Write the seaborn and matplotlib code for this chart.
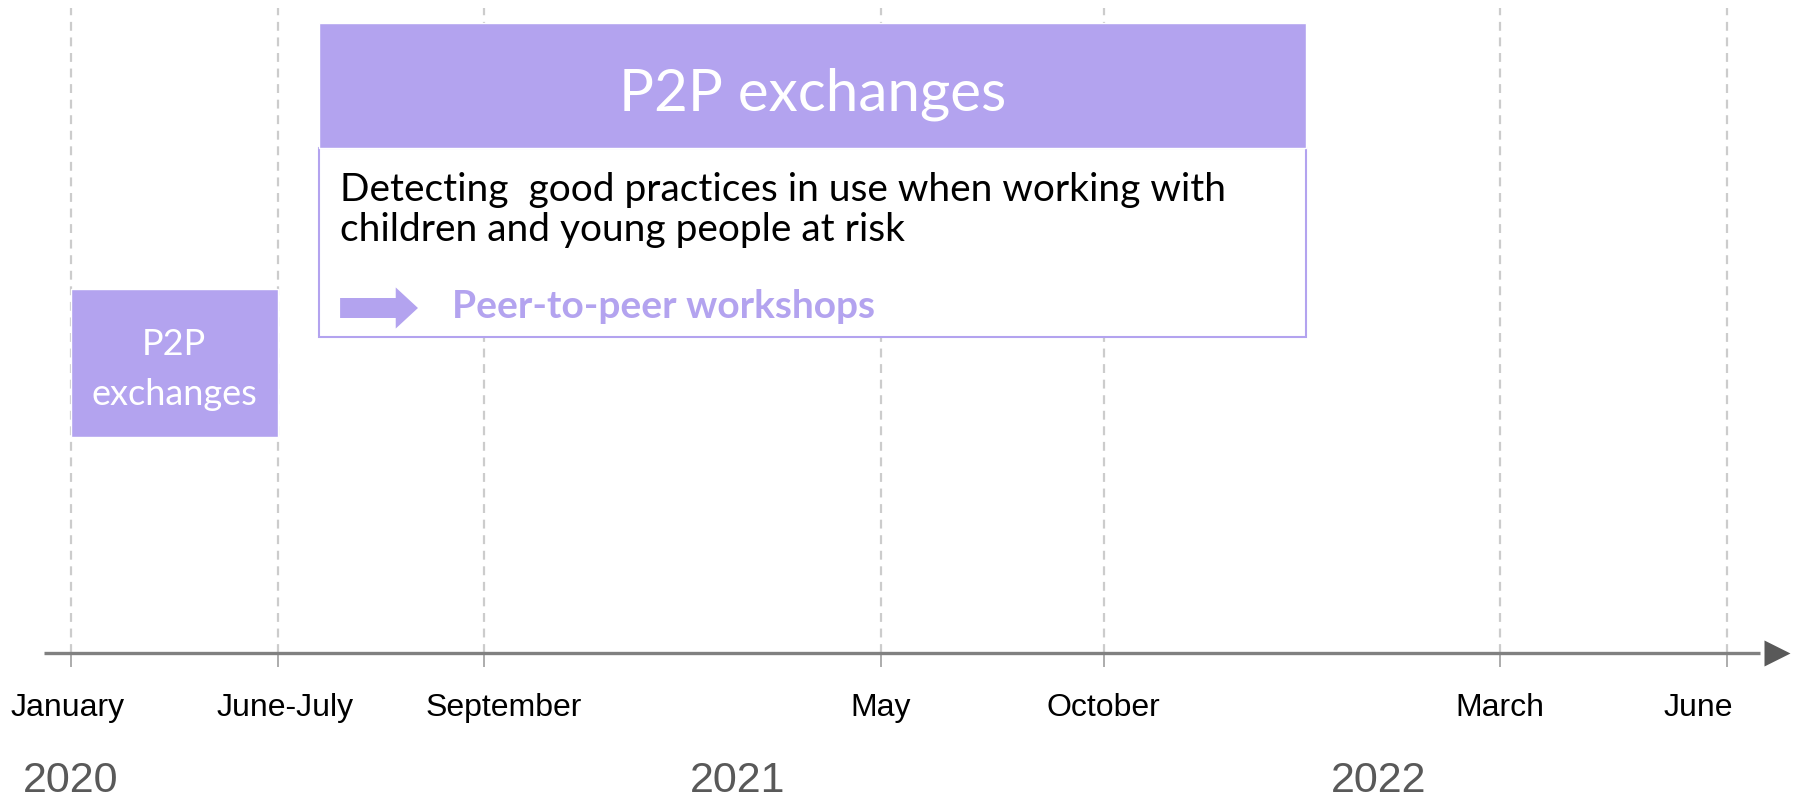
"""Project timeline: P2P exchanges phases along a 2020-2022 axis."""

import matplotlib

matplotlib.use("Agg")
import matplotlib.pyplot as plt
import seaborn as sns

# timeline data (x in timeline units, one unit = the Jan -> June-July gap)
MONTHS = ["January", "June-July", "September", "May", "October", "March", "June"]
MONTH_POS = [0, 1, 2, 3.92, 5.0, 6.92, 8.02]
MONTH_LABEL_POS = [-0.016, 1.039, 2.097, 3.92, 5.0, 6.92, 7.88]
YEARS = ["2020", "2021", "2022"]
YEAR_POS = [0, 3.23, 6.33]

PHASE_LABELS = ["P2P\nexchanges", "P2P exchanges"]
PHASE_START = [0, 1.2]
PHASE_END = [1, 5.98]
DETAIL_TEXT = "Detecting  good practices in use when working with\nchildren and young people at risk"
DETAIL_ACTION = "Peer-to-peer workshops"

LAVENDER = "#B3A3EF"
GRID_GREY = "#CCCCCC"
AXIS_GREY = "#808080"

FIG_W, FIG_H = 1798, 803
AXIS_Y = 653.6  # pixel row of the timeline arrow


def main() -> None:
    sns.set_theme(style="white")
    plt.rcParams["font.family"] = ["Liberation Sans", "DejaVu Sans"]
    box_font = ["Lato", "DejaVu Sans"]

    fig = plt.figure(figsize=(FIG_W / 100, FIG_H / 100), dpi=100)
    fig.patch.set_facecolor("white")
    bottom = (FIG_H - AXIS_Y) / FIG_H
    ax = fig.add_axes([0, bottom, 1, 1 - bottom])
    ax.set_xlim(-0.344, 8.363)
    ax.set_ylim(0, AXIS_Y)
    for side in ["top", "right", "left", "bottom"]:
        ax.spines[side].set_visible(False)
    ax.set_facecolor("none")

    # dashed month guides
    ax.vlines(MONTH_POS, 0, AXIS_Y - 9, colors=GRID_GREY, lw=1.6,
              linestyles=(0, (4, 3)), zorder=1)

    # timeline arrow
    ax.hlines(0, -0.133, 8.18, colors=AXIS_GREY, lw=2.4, clip_on=False, zorder=4)
    ax.plot([8.26], [0], marker=">", ms=19, color="#595959", mec="none",
            clip_on=False, zorder=5)

    ax.set_xticks(MONTH_POS)
    ax.set_xticklabels([])
    ax.set_yticks([])
    ax.tick_params(axis="x", bottom=True, direction="out", length=10, width=1.3,
                   colors="#A6A6A6")

    for label, x in zip(MONTHS, MONTH_LABEL_POS):
        ax.text(x, -54, label, ha="center", va="center", fontsize=23,
                color="black", clip_on=False)
    for label, x in zip(YEARS, YEAR_POS):
        ax.text(x, -127, label, ha="center", va="center", fontsize=31,
                color="#595959", clip_on=False)

    # phase 1: small box
    ax.barh(289.6, PHASE_END[0] - PHASE_START[0], left=PHASE_START[0], height=148,
            color=LAVENDER, zorder=3)
    ax.text((PHASE_START[0] + PHASE_END[0]) / 2, 284.0, PHASE_LABELS[0],
            ha="center", va="center", fontsize=26, color="white",
            family=box_font, linespacing=1.65, zorder=6)

    # phase 2: detail panel + header
    ax.barh(410.1, PHASE_END[1] - PHASE_START[1], left=PHASE_START[1], height=189,
            facecolor="white", edgecolor=LAVENDER, lw=1.5, zorder=3)
    ax.barh(567.1, PHASE_END[1] - PHASE_START[1], left=PHASE_START[1], height=125,
            color=LAVENDER, zorder=4)
    ax.text((PHASE_START[1] + PHASE_END[1]) / 2, 559.6, PHASE_LABELS[1],
            ha="center", va="center", fontsize=42, color="white",
            family=box_font, zorder=6)
    ax.text(1.303, 443.6, DETAIL_TEXT, ha="left", va="center", fontsize=28,
            color="black", family=box_font, linespacing=1.17, zorder=6)
    ax.annotate("", xy=(1.68, 344.6), xytext=(1.303, 344.6),
                arrowprops=dict(arrowstyle="simple,head_length=1.0,head_width=1.85,tail_width=0.9",
                                mutation_scale=16, fc=LAVENDER, ec="none",
                                shrinkA=0, shrinkB=0),
                zorder=6)
    ax.text(1.845, 346.6, DETAIL_ACTION, ha="left", va="center", fontsize=28,
            fontweight="bold", color=LAVENDER, family=box_font, zorder=6)

    fig.savefig("out.png", dpi=100, facecolor="white")
    plt.close(fig)


if __name__ == "__main__":
    main()
